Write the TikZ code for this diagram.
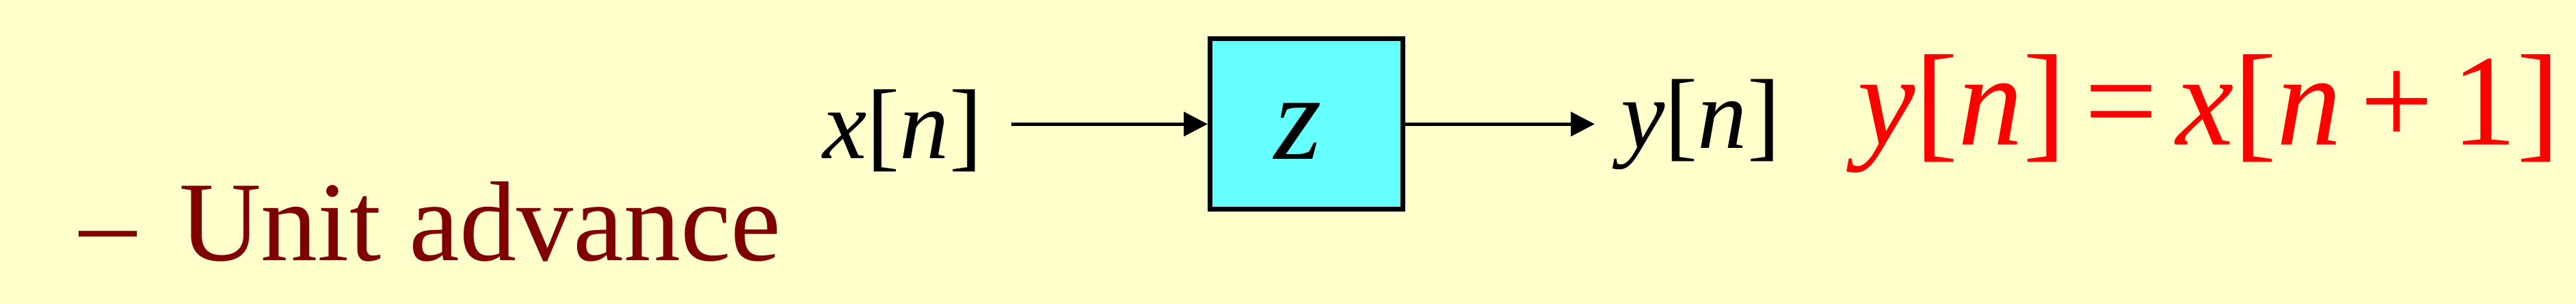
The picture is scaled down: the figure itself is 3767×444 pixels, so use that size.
\documentclass[tikz,border=0pt]{standalone}
\usepackage{fontspec}
\setmainfont{Liberation Serif}
\usetikzlibrary{arrows.meta}
\definecolor{slidebg}{HTML}{FFFFCC}
\definecolor{boxcyan}{HTML}{66FFFF}
\definecolor{darkred}{HTML}{800000}
\newcommand{\fsz}[1]{\fontsize{#1}{#1}\selectfont}

\begin{document}
\begin{tikzpicture}[x=1pt,y=1pt,
    sig/.style={line width=5pt,-{Triangle[length=35pt,width=35pt]}},
    lbl/.style={anchor=base west,inner sep=0pt,outer sep=0pt}]
  \fill[slidebg](0,0) rectangle (3767,444);
  \useasboundingbox(0,0) rectangle (3767,444);
  \node[draw,line width=7pt,fill=boxcyan,minimum width=282pt,minimum height=249.5pt,inner sep=0pt](adv) at (1910.5,262.75){};
  \node[lbl,font=\fsz{178}](zsym) at (1863,211){\textit{z}};
  \node[lbl,font=\fsz{145}](xn) at (1203,212){\textit{x}[\textit{n}]};
  \node[lbl,font=\fsz{145}](yn) at (2370,227){\textit{y}[\textit{n}]};
  \node[lbl,font=\fsz{190},text=red](eq) at (2716,232){\textit{y}[\textit{n}]\kern.14em=\kern.14em\textit{x}[\textit{n}\kern.14em+\kern.14em1]};
  \node[lbl,font=\fsz{166},text=darkred](note) at (116,63){--\hspace{.38em}Unit advance};
  \coordinate(xin) at (1479,262.75);
  \coordinate(yout) at (2332,262.75);
  \draw[sig](xin) -- (adv.west);
  \draw[sig](adv.east) -- (yout);
\end{tikzpicture}
\end{document}
